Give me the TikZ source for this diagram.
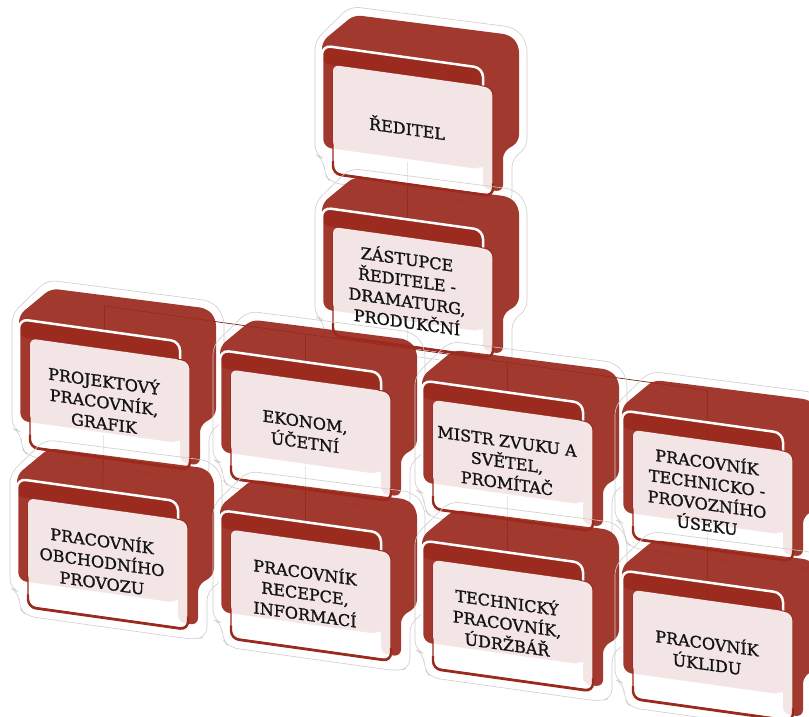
\documentclass[tikz,border=0pt]{standalone}
\usepackage{fontspec}
\setmainfont{DejaVu Serif}
\newfontfamily\unitfont[FakeBold=1.4]{DejaVu Serif}

\definecolor{unitred}{RGB}{155,42,30}
\definecolor{unitpink}{RGB}{243,229,229}
\definecolor{halogrey}{RGB}{205,205,205}
\definecolor{linkred}{RGB}{120,30,22}
\definecolor{textgrey}{RGB}{20,20,20}

\pgfdeclarelayer{background}
\pgfsetlayers{background,main}

\tikzset{
  halo/.style={draw=halogrey, line width=0.6pt, rounded corners=9},
  backpanel/.style={fill=unitred, fill opacity=0.93, rounded corners=7},
  frontslab/.style={fill=unitred, fill opacity=0.93, draw=white, line width=2.5pt, rounded corners=9},
  cardbox/.style={fill=white, fill opacity=0.88, draw=unitred, line width=1.1pt, rounded corners=8},
  cardtop/.style={fill=unitpink, rounded corners=6},
  cardrim/.style={draw=unitred, line width=2.4pt, rounded corners=8},
  unittext/.style={align=center, text=textgrey, inner sep=1pt, transform shape,
    font=\unitfont\fontsize{16}{21}\selectfont},
  linkline/.style={draw=linkred, line width=0.7pt}
}

% one box of the chart: name, x, y (unslanted), text
\newcommand\orgunit[4]{%
\begin{scope}[shift={(#2,#3)}]
\draw[halo] (-18,-22) -- (17,-61) -- (182,-63) -- (194,-50) -- (194,56) -- (179,68) -- (179,113) -- (166,118) -- (-2,118) -- (-9,110) -- (-9,95) -- (-18,92) -- cycle;
\fill[backpanel] (-11,-22) -- (21,-53) -- (177,-55) -- (186,-46) -- (186,51) -- (170,63) -- (170,103) -- (150,103) -- (150,0) -- (-11,0) -- cycle;
\filldraw[frontslab] (-11,-18) rectangle (150,85);
\filldraw[cardbox] (0,0) rectangle (160,108);
\fill[cardtop] (0,0) rectangle (152,82);
\draw[cardrim] (0,96) -- (0,109) -- (160,109) -- (160,96);
\node[unittext] (#1) at (74,52) {#4};
\end{scope}}

\begin{document}
\begin{tikzpicture}[x=1pt,y=-1pt]
\useasboundingbox (0,0) rectangle (809,716);

\def\busv{338}
\def\linkx{74}

\begin{scope}[yshift=46.62pt, yslant=-0.14]
\orgunit{r}{333}{65}{ŘEDITEL}
\orgunit{z}{333}{227}{ZÁSTUPCE\\ŘEDITELE -\\DRAMATURG,\\PRODUKČNÍ}

\orgunit{p}{30}{381}{PROJEKTOVÝ\\PRACOVNÍK,\\GRAFIK}
\orgunit{e}{231}{384}{EKONOM,\\ÚČETNÍ}
\orgunit{m}{433}{386}{MISTR ZVUKU A\\SVĚTEL,\\PROMÍTAČ}
\orgunit{t}{633}{388}{PRACOVNÍK\\TECHNICKO -\\PROVOZNÍHO\\ÚSEKU}

\orgunit{po}{28}{541}{PRACOVNÍK\\OBCHODNÍHO\\PROVOZU}
\orgunit{er}{231}{544}{PRACOVNÍK\\RECEPCE,\\INFORMACÍ}
\orgunit{mt}{433}{546}{TECHNICKÝ\\PRACOVNÍK,\\ÚDRŽBÁŘ}
\orgunit{tu}{633}{548}{PRACOVNÍK\\ÚKLIDU}

\coordinate (jz) at (333+\linkx,\busv);
\coordinate (jp) at (30+\linkx,\busv);
\coordinate (je) at (231+\linkx,\busv);
\coordinate (jm) at (433+\linkx,\busv);
\coordinate (jt) at (633+\linkx,\busv);

\begin{pgfonlayer}{background}
\draw[linkline] (r) -- (z);
\draw[linkline] (z) -- (jz);
\draw[linkline] (jp) -- (jt);
\draw[linkline] (jp) -- (p);
\draw[linkline] (je) -- (e);
\draw[linkline] (jm) -- (m);
\draw[linkline] (jt) -- (t);
\draw[linkline] (p) -- (po);
\draw[linkline] (e) -- (er);
\draw[linkline] (m) -- (mt);
\draw[linkline] (t) -- (tu);
\end{pgfonlayer}
\end{scope}

\end{tikzpicture}
\end{document}
